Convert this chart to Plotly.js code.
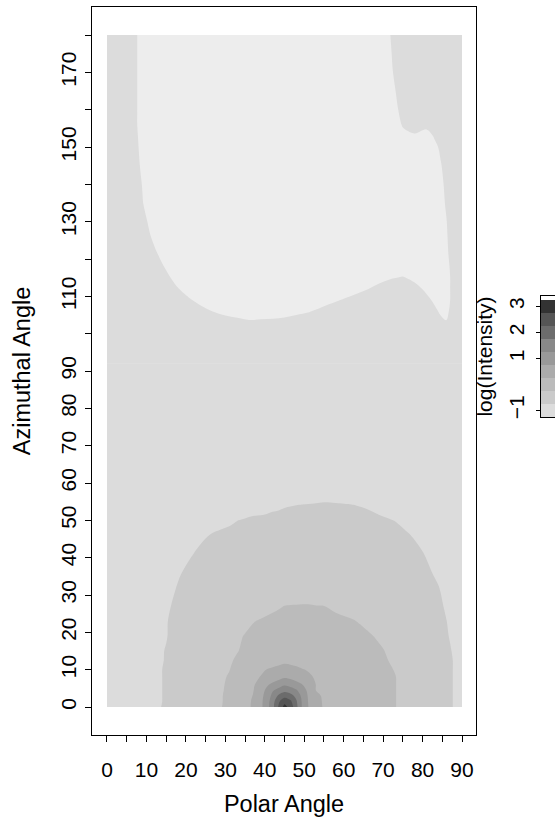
<!DOCTYPE html>
<html>
<head>
<meta charset="utf-8">
<script src="https://cdn.plot.ly/plotly-3.0.1.min.js"></script>
<style>html,body{margin:0;padding:0;background:#fff;}#chart{width:555px;height:821px;}</style>
</head>
<body>
<div id="chart"></div>
<script>
// ---- lower part of the field (azimuth 0..95), log(Intensity) ----
const polarAngleLow = [0, 6, 12, 15, 18, 22, 26, 29, 31, 33, 35, 37, 39, 40.5, 42, 43.5, 45, 46.5, 48, 49.5, 51, 53, 55, 58, 62, 66, 70, 73, 76, 80, 84, 87, 90];
const azimuthLow = [0, 1.5, 3, 4.5, 6, 8, 10, 12.5, 15, 19, 23, 27, 31, 36, 41, 46, 50, 54, 58, 65, 80, 95];
const logIntensityLow = [
 [-1.0,-0.89,-0.79,-0.72,-0.63,-0.49,-0.36,-0.26,-0.14,0.0,0.13,0.30,0.65,1.01,1.6,2.30,2.91,2.57,1.89,1.19,0.76,0.37,0.22,0.14,0.04,-0.06,-0.16,-0.24,-0.34,-0.48,-0.63,-0.73,-0.82],
 [-1.0,-0.89,-0.79,-0.73,-0.63,-0.5,-0.37,-0.27,-0.15,-0.01,0.13,0.29,0.64,1.0,1.55,2.17,2.58,2.35,1.81,1.18,0.74,0.36,0.21,0.14,0.04,-0.06,-0.16,-0.24,-0.34,-0.48,-0.63,-0.73,-0.82],
 [-1.0,-0.9,-0.79,-0.73,-0.63,-0.5,-0.37,-0.27,-0.16,-0.02,0.11,0.26,0.61,0.94,1.39,1.83,2.08,1.93,1.61,1.11,0.71,0.31,0.21,0.13,0.03,-0.06,-0.16,-0.24,-0.34,-0.48,-0.63,-0.73,-0.82],
 [-1.0,-0.9,-0.79,-0.73,-0.63,-0.5,-0.38,-0.28,-0.18,-0.05,0.09,0.22,0.54,0.85,1.2,1.41,1.58,1.48,1.3,0.99,0.64,0.24,0.2,0.12,0.03,-0.07,-0.17,-0.24,-0.34,-0.48,-0.63,-0.73,-0.82],
 [-1.0,-0.9,-0.79,-0.73,-0.64,-0.51,-0.38,-0.29,-0.19,-0.06,0.06,0.19,0.43,0.67,0.86,1.02,1.19,1.09,0.93,0.76,0.5,0.24,0.19,0.12,0.02,-0.07,-0.17,-0.24,-0.34,-0.48,-0.63,-0.73,-0.82],
 [-1.0,-0.9,-0.79,-0.73,-0.64,-0.52,-0.39,-0.3,-0.22,-0.1,0.02,0.15,0.27,0.38,0.49,0.59,0.70,0.63,0.52,0.41,0.30,0.22,0.17,0.1,0.01,-0.08,-0.18,-0.24,-0.35,-0.49,-0.63,-0.73,-0.82],
 [-1.0,-0.9,-0.79,-0.73,-0.64,-0.52,-0.4,-0.31,-0.26,-0.14,-0.04,0.07,0.18,0.26,0.32,0.37,0.43,0.39,0.33,0.27,0.23,0.19,0.14,0.07,-0.01,-0.1,-0.19,-0.26,-0.36,-0.5,-0.63,-0.73,-0.82],
 [-1.0,-0.9,-0.79,-0.74,-0.65,-0.54,-0.42,-0.34,-0.28,-0.22,-0.16,-0.1,-0.04,0.0,0.05,0.1,0.14,0.13,0.11,0.09,0.06,0.03,0.0,-0.04,-0.1,-0.16,-0.22,-0.29,-0.39,-0.51,-0.64,-0.73,-0.82],
 [-1.0,-0.9,-0.8,-0.74,-0.66,-0.55,-0.45,-0.37,-0.31,-0.26,-0.21,-0.16,-0.11,-0.08,-0.04,-0.01,0.03,0.06,0.1,0.08,0.05,0.02,-0.01,-0.05,-0.12,-0.18,-0.24,-0.32,-0.41,-0.53,-0.65,-0.74,-0.83],
 [-1.0,-0.9,-0.8,-0.76,-0.67,-0.57,-0.47,-0.39,-0.34,-0.28,-0.24,-0.2,-0.17,-0.14,-0.12,-0.09,-0.07,-0.04,-0.02,-0.01,-0.03,-0.05,-0.08,-0.12,-0.17,-0.22,-0.3,-0.38,-0.46,-0.57,-0.68,-0.76,-0.84],
 [-1.0,-0.9,-0.81,-0.76,-0.69,-0.6,-0.51,-0.44,-0.39,-0.35,-0.3,-0.26,-0.23,-0.21,-0.2,-0.18,-0.16,-0.15,-0.13,-0.12,-0.14,-0.15,-0.17,-0.2,-0.23,-0.3,-0.38,-0.45,-0.52,-0.61,-0.7,-0.77,-0.85],
 [-1.0,-0.91,-0.82,-0.77,-0.72,-0.65,-0.58,-0.52,-0.49,-0.45,-0.42,-0.38,-0.35,-0.32,-0.29,-0.27,-0.245,-0.24,-0.24,-0.24,-0.24,-0.245,-0.248,-0.29,-0.36,-0.42,-0.49,-0.54,-0.59,-0.66,-0.72,-0.79,-0.86],
 [-1.0,-0.91,-0.82,-0.78,-0.74,-0.68,-0.63,-0.59,-0.56,-0.54,-0.51,-0.48,-0.46,-0.44,-0.42,-0.4,-0.38,-0.36,-0.34,-0.32,-0.32,-0.35,-0.37,-0.41,-0.46,-0.51,-0.56,-0.6,-0.64,-0.69,-0.74,-0.8,-0.87],
 [-1.0,-0.92,-0.84,-0.8,-0.76,-0.72,-0.67,-0.64,-0.61,-0.59,-0.57,-0.55,-0.52,-0.51,-0.49,-0.47,-0.46,-0.44,-0.42,-0.41,-0.41,-0.43,-0.45,-0.48,-0.53,-0.57,-0.61,-0.64,-0.68,-0.72,-0.77,-0.82,-0.88],
 [-1.0,-0.93,-0.86,-0.83,-0.79,-0.749,-0.71,-0.69,-0.67,-0.65,-0.63,-0.62,-0.6,-0.58,-0.57,-0.56,-0.54,-0.53,-0.52,-0.5,-0.51,-0.52,-0.54,-0.57,-0.6,-0.63,-0.66,-0.69,-0.71,-0.745,-0.8,-0.85,-0.89],
 [-1.0,-0.94,-0.88,-0.85,-0.83,-0.79,-0.749,-0.73,-0.72,-0.71,-0.69,-0.68,-0.67,-0.66,-0.65,-0.64,-0.63,-0.62,-0.61,-0.6,-0.6,-0.6,-0.61,-0.63,-0.65,-0.68,-0.7,-0.72,-0.74,-0.78,-0.83,-0.86,-0.9],
 [-1.0,-0.95,-0.91,-0.89,-0.86,-0.83,-0.8,-0.78,-0.77,-0.752,-0.74,-0.73,-0.73,-0.72,-0.71,-0.71,-0.7,-0.7,-0.69,-0.68,-0.68,-0.67,-0.66,-0.68,-0.7,-0.72,-0.74,-0.752,-0.78,-0.81,-0.85,-0.87,-0.9],
 [-1.0,-0.97,-0.94,-0.92,-0.9,-0.88,-0.86,-0.85,-0.84,-0.83,-0.82,-0.8,-0.79,-0.79,-0.78,-0.77,-0.76,-0.754,-0.749,-0.746,-0.744,-0.74,-0.737,-0.739,-0.746,-0.76,-0.78,-0.8,-0.82,-0.84,-0.86,-0.88,-0.9],
 [-1.0,-0.98,-0.96,-0.95,-0.93,-0.92,-0.91,-0.89,-0.89,-0.88,-0.87,-0.87,-0.86,-0.85,-0.85,-0.84,-0.84,-0.83,-0.83,-0.82,-0.81,-0.81,-0.8,-0.81,-0.82,-0.83,-0.84,-0.85,-0.86,-0.87,-0.88,-0.89,-0.92],
 [-1.0,-0.98,-0.97,-0.96,-0.95,-0.94,-0.93,-0.92,-0.91,-0.9,-0.9,-0.89,-0.89,-0.88,-0.88,-0.87,-0.87,-0.87,-0.86,-0.86,-0.86,-0.86,-0.85,-0.86,-0.86,-0.87,-0.88,-0.88,-0.89,-0.9,-0.91,-0.92,-0.93],
 [-1.0,-1.0,-0.99,-0.98,-0.98,-0.97,-0.96,-0.96,-0.95,-0.95,-0.95,-0.94,-0.94,-0.94,-0.94,-0.93,-0.93,-0.93,-0.93,-0.93,-0.93,-0.93,-0.93,-0.93,-0.94,-0.94,-0.95,-0.95,-0.96,-0.96,-0.97,-0.97,-0.98],
 [-1.0,-1.0,-1.0,-1.0,-1.0,-1.0,-1.0,-1.0,-1.0,-1.0,-1.0,-1.0,-1.0,-1.0,-1.0,-1.0,-1.0,-1.0,-1.0,-1.0,-1.0,-1.0,-1.0,-1.0,-1.0,-1.0,-1.0,-1.0,-1.0,-1.0,-1.0,-1.0,-1.0]
];

// ---- upper part of the field (azimuth 92..180) ----
const polarAngleUp = [0,3,6,9,12,15,18,21,24,27,30,33,36,39,42,45,48,51,54,57,60,63,66,69,72,75,78,81,83,84.5,86,87.5,90];
const azimuthUp = [92, 97, 100, 103, 106, 109, 112, 115, 118, 122, 126, 130, 135, 140, 145, 150, 153, 156, 160, 165, 170, 175, 180];
const logIntensityUp = [
 [-1,-1,-1,-1,-1,-1,-1,-1,-1,-1,-1,-1,-1,-1,-1,-1,-1,-1,-1,-1,-1,-1,-1,-1,-1,-1,-1,-1,-1,-1,-1,-1,-1],
 [-1,-1,-1,-1,-1,-1,-1,-1,-1,-1,-1,-1,-1,-1,-1,-1,-1,-1,-1,-1,-1,-1,-1,-1,-1,-1,-1,-1,-1,-1,-1,-1,-1],
 [-1,-1,-1,-1,-1,-1,-1,-1,-1,-1,-1,-1,-1.03,-1.02,-1.01,-1,-1,-1,-1,-1,-1,-1,-1,-1,-1,-1,-1,-1,-1.02,-1.07,-1.08,-1.05,-1],
 [-1,-1,-1,-1,-1,-1,-1,-1,-1,-1.09,-1.14,-1.18,-1.21,-1.2,-1.19,-1.17,-1.13,-1.1,-1.03,-1,-1,-1,-1,-1,-1,-1,-1,-1.01,-1.12,-1.19,-1.24,-1.15,-1.01],
 [-1,-1,-1,-1,-1,-1,-1,-1.08,-1.18,-1.26,-1.32,-1.35,-1.39,-1.38,-1.37,-1.35,-1.31,-1.27,-1.2,-1.13,-1.06,-1,-1,-1,-1,-1,-1,-1.1,-1.2,-1.28,-1.29,-1.2,-1.05],
 [-1,-1,-1,-1,-1,-1,-1.11,-1.23,-1.33,-1.41,-1.48,-1.5,-1.5,-1.5,-1.5,-1.5,-1.48,-1.43,-1.37,-1.3,-1.23,-1.16,-1.09,-1.01,-1,-1,-1.06,-1.19,-1.29,-1.37,-1.31,-1.22,-1.07],
 [-1,-1,-1,-1,-1,-1.09,-1.24,-1.36,-1.47,-1.5,-1.5,-1.5,-1.5,-1.5,-1.5,-1.5,-1.5,-1.5,-1.5,-1.47,-1.39,-1.33,-1.26,-1.17,-1.1,-1.09,-1.17,-1.3,-1.41,-1.39,-1.31,-1.22,-1.07],
 [-1,-1,-1,-1,-1.03,-1.19,-1.35,-1.47,-1.5,-1.5,-1.5,-1.5,-1.5,-1.5,-1.5,-1.5,-1.5,-1.5,-1.5,-1.5,-1.5,-1.49,-1.41,-1.34,-1.27,-1.23,-1.31,-1.45,-1.46,-1.4,-1.31,-1.22,-1.07],
 [-1,-1,-1,-1,-1.12,-1.28,-1.44,-1.5,-1.5,-1.5,-1.5,-1.5,-1.5,-1.5,-1.5,-1.5,-1.5,-1.5,-1.5,-1.5,-1.5,-1.5,-1.5,-1.5,-1.44,-1.41,-1.48,-1.5,-1.46,-1.39,-1.3,-1.21,-1.06],
 [-1,-1,-1,-1.04,-1.22,-1.38,-1.5,-1.5,-1.5,-1.5,-1.5,-1.5,-1.5,-1.5,-1.5,-1.5,-1.5,-1.5,-1.5,-1.5,-1.5,-1.5,-1.5,-1.5,-1.5,-1.5,-1.5,-1.5,-1.45,-1.37,-1.28,-1.19,-1.04],
 [-1,-1,-1,-1.13,-1.3,-1.47,-1.5,-1.5,-1.5,-1.5,-1.5,-1.5,-1.5,-1.5,-1.5,-1.5,-1.5,-1.5,-1.5,-1.5,-1.5,-1.5,-1.5,-1.5,-1.5,-1.5,-1.5,-1.5,-1.44,-1.36,-1.27,-1.18,-1.03],
 [-1,-1,-1,-1.18,-1.35,-1.5,-1.5,-1.5,-1.5,-1.5,-1.5,-1.5,-1.5,-1.5,-1.5,-1.5,-1.5,-1.5,-1.5,-1.5,-1.5,-1.5,-1.5,-1.5,-1.5,-1.5,-1.5,-1.5,-1.43,-1.34,-1.26,-1.16,-1.01],
 [-1,-1,-1.06,-1.24,-1.41,-1.5,-1.5,-1.5,-1.5,-1.5,-1.5,-1.5,-1.5,-1.5,-1.5,-1.5,-1.5,-1.5,-1.5,-1.5,-1.5,-1.5,-1.5,-1.5,-1.5,-1.5,-1.5,-1.5,-1.41,-1.32,-1.23,-1.14,-1],
 [-1,-1,-1.08,-1.26,-1.44,-1.5,-1.5,-1.5,-1.5,-1.5,-1.5,-1.5,-1.5,-1.5,-1.5,-1.5,-1.5,-1.5,-1.5,-1.5,-1.5,-1.5,-1.5,-1.5,-1.5,-1.5,-1.5,-1.5,-1.38,-1.3,-1.21,-1.12,-1],
 [-1,-1,-1.11,-1.29,-1.47,-1.5,-1.5,-1.5,-1.5,-1.5,-1.5,-1.5,-1.5,-1.5,-1.5,-1.5,-1.5,-1.5,-1.5,-1.5,-1.5,-1.5,-1.5,-1.5,-1.5,-1.5,-1.5,-1.46,-1.35,-1.27,-1.18,-1.09,-1],
 [-1,-1,-1.13,-1.31,-1.49,-1.5,-1.5,-1.5,-1.5,-1.5,-1.5,-1.5,-1.5,-1.5,-1.5,-1.5,-1.5,-1.5,-1.5,-1.5,-1.5,-1.5,-1.5,-1.5,-1.5,-1.49,-1.44,-1.4,-1.3,-1.22,-1.13,-1.04,-1],
 [-1,-1,-1.14,-1.32,-1.5,-1.5,-1.5,-1.5,-1.5,-1.5,-1.5,-1.5,-1.5,-1.5,-1.5,-1.5,-1.5,-1.5,-1.5,-1.5,-1.5,-1.5,-1.5,-1.5,-1.5,-1.31,-1.28,-1.33,-1.23,-1.15,-1.05,-1,-1],
 [-1,-1,-1.15,-1.33,-1.5,-1.5,-1.5,-1.5,-1.5,-1.5,-1.5,-1.5,-1.5,-1.5,-1.5,-1.5,-1.5,-1.5,-1.5,-1.5,-1.5,-1.5,-1.5,-1.5,-1.41,-1.23,-1.14,-1.19,-1.03,-1,-1,-1,-1],
 [-1,-1,-1.15,-1.33,-1.5,-1.5,-1.5,-1.5,-1.5,-1.5,-1.5,-1.5,-1.5,-1.5,-1.5,-1.5,-1.5,-1.5,-1.5,-1.5,-1.5,-1.5,-1.5,-1.5,-1.36,-1.18,-1.04,-1,-1,-1,-1,-1,-1],
 [-1,-1,-1.15,-1.33,-1.5,-1.5,-1.5,-1.5,-1.5,-1.5,-1.5,-1.5,-1.5,-1.5,-1.5,-1.5,-1.5,-1.5,-1.5,-1.5,-1.5,-1.5,-1.5,-1.5,-1.32,-1.14,-1,-1,-1,-1,-1,-1,-1],
 [-1,-1,-1.15,-1.33,-1.5,-1.5,-1.5,-1.5,-1.5,-1.5,-1.5,-1.5,-1.5,-1.5,-1.5,-1.5,-1.5,-1.5,-1.5,-1.5,-1.5,-1.5,-1.5,-1.46,-1.28,-1.1,-1,-1,-1,-1,-1,-1,-1],
 [-1,-1,-1.15,-1.33,-1.5,-1.5,-1.5,-1.5,-1.5,-1.5,-1.5,-1.5,-1.5,-1.5,-1.5,-1.5,-1.5,-1.5,-1.5,-1.5,-1.5,-1.5,-1.5,-1.44,-1.26,-1.08,-1,-1,-1,-1,-1,-1,-1],
 [-1,-1,-1.15,-1.33,-1.5,-1.5,-1.5,-1.5,-1.5,-1.5,-1.5,-1.5,-1.5,-1.5,-1.5,-1.5,-1.5,-1.5,-1.5,-1.5,-1.5,-1.5,-1.5,-1.42,-1.24,-1.06,-1,-1,-1,-1,-1,-1,-1]
];

// ---- contour levels and grey palette (lowest band first) ----
const levelStart = -1.25, levelEnd = 3.25, levelStep = 0.5;
const levelColors = ['#EDEDED','#DCDCDC','#CACACA','#BBBBBB','#ABABAB','#999999','#888888','#6C6C6C','#555555','#333333','#FFFFFF'];

// ---- colour key ----
const keyEdges = [-1.25, -0.75, -0.25, 0.25, 0.75, 1.25, 1.75, 2.25, 2.75, 3.25, 3.4];
const keyValues = [-1.0, -0.5, 0.0, 0.5, 1.0, 1.5, 2.0, 2.5, 3.0, 3.5];
const keyTickVals = [-1, 1, 2, 3];
const keyTickText = ['\u22121', '1', '2', '3'];

// ---- axis ticks ----
const xTickVals = [0,5,10,15,20,25,30,35,40,45,50,55,60,65,70,75,80,85,90];
const xTickText = ['0','','10','','20','','30','','40','','50','','60','','70','','80','','90'];
const yTickVals = [0,10,20,30,40,50,60,70,80,90,100,110,120,130,140,150,160,170,180];
const yTickText = ['0','10','20','30','40','50','60','70','80','90','','110','','130','','150','','170',''];

const greyScale = levelColors.map((c, i) => [i / (levelColors.length - 1), c]);
const contourSpec = {start: levelStart, end: levelEnd, size: levelStep, coloring: 'fill', showlines: false};

const traces = [
  {type: 'contour', x: polarAngleLow, y: azimuthLow, z: logIntensityLow,
   autocontour: false, contours: contourSpec, colorscale: greyScale,
   showscale: false, line: {width: 0, smoothing: 1}, hoverinfo: 'skip', xaxis: 'x', yaxis: 'y'},
  {type: 'contour', x: polarAngleUp, y: azimuthUp, z: logIntensityUp,
   autocontour: false, contours: contourSpec, colorscale: greyScale,
   showscale: false, line: {width: 0, smoothing: 1}, hoverinfo: 'skip', xaxis: 'x', yaxis: 'y'},
  {type: 'heatmap', x: [0, 1], y: keyEdges, z: keyValues.map(v => [v]),
   zmin: levelStart - levelStep / 2, zmax: levelEnd + levelStep / 2,
   colorscale: greyScale, showscale: false, hoverinfo: 'skip', xaxis: 'x2', yaxis: 'y2'}
];

const fontFam = 'Liberation Sans, Arial, Helvetica, sans-serif';
const layout = {
  width: 555, height: 821,
  margin: {l: 92, r: 0, t: 7, b: 86, pad: 0},
  paper_bgcolor: '#ffffff', plot_bgcolor: '#ffffff',
  font: {family: fontFam, size: 21, color: '#000000'},
  showlegend: false,
  xaxis: {domain: [0, 384 / 463], range: [-3.8, 93.55], anchor: 'y',
    tickmode: 'array', tickvals: xTickVals, ticktext: xTickText,
    ticks: 'outside', ticklen: 6, tickwidth: 1, tickcolor: '#000',
    showline: true, mirror: true, linecolor: '#000', linewidth: 1,
    showgrid: false, zeroline: false, tickangle: 0,
    tickfont: {size: 21}, ticklabelstandoff: 10,
    title: {text: 'Polar Angle', font: {size: 23.5}, standoff: 15}},
  yaxis: {domain: [0, 1], range: [-7.5, 187.5], anchor: 'x',
    tickmode: 'array', tickvals: yTickVals, ticktext: yTickText,
    ticks: 'outside', ticklen: 6, tickwidth: 1, tickcolor: '#000',
    showline: true, mirror: true, linecolor: '#000', linewidth: 1,
    showgrid: false, zeroline: false, tickangle: -90,
    tickfont: {size: 21}, ticklabelstandoff: 1,
    title: {text: 'Azimuthal Angle', font: {size: 23.5}, standoff: 19}},
  xaxis2: {domain: [449 / 463, 1], range: [0, 1], anchor: 'y2',
    showticklabels: false, ticks: '', showline: true, mirror: true,
    linecolor: '#000', linewidth: 1, showgrid: false, zeroline: false},
  yaxis2: {domain: [(735 - 417) / 728, (735 - 296) / 728], range: [-1.25, 3.4], anchor: 'x2',
    side: 'left', tickmode: 'array', tickvals: keyTickVals, ticktext: keyTickText,
    ticks: 'outside', ticklen: 4, tickwidth: 1, tickcolor: '#000',
    showline: true, linecolor: '#000', linewidth: 1, showgrid: false, zeroline: false,
    tickangle: -90, tickfont: {size: 21}, ticklabelstandoff: 4,
    title: {text: 'log(Intensity)', font: {size: 21}, standoff: 6}}
};

Plotly.newPlot('chart', traces, layout, {staticPlot: true, displayModeBar: false});
</script>
</body>
</html>
